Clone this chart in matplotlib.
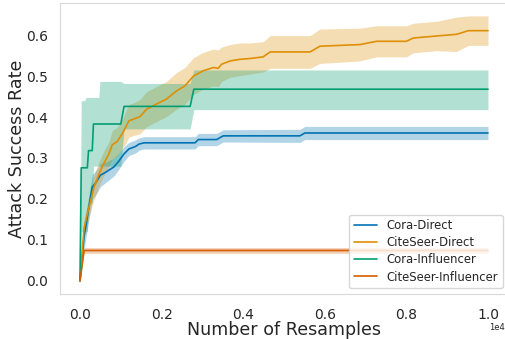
import numpy as np
import matplotlib
matplotlib.use("Agg")
import matplotlib.pyplot as plt
import seaborn as sns

sns.set_style("white")
plt.rcParams['font.family'] = ['DejaVu Sans']

# ---- data (x in units of resamples, shown with 1e4 offset) ----
labels = ["Cora-Direct", "CiteSeer-Direct", "Cora-Influencer", "CiteSeer-Influencer"]
colors = ["#0173b2", "#de8f05", "#029e73", "#d55e00"]

cora_direct_t = [0, 0.01, 0.03, 0.037, 0.05, 0.063, 0.083, 0.095, 0.108, 0.12, 0.136,
                 0.145, 0.157, 0.282, 0.29, 0.335, 0.351, 0.539, 0.551, 1.0]
cora_direct_v = [0, 0.108, 0.229, 0.237, 0.258, 0.265, 0.278, 0.292, 0.31, 0.322, 0.328,
                 0.334, 0.337, 0.337, 0.345, 0.345, 0.354, 0.354, 0.361, 0.361]
cora_direct_hw = [0, 0.03, 0.03, 0.03, 0.028, 0.025, 0.022, 0.02, 0.018, 0.016, 0.016,
                  0.015, 0.015, 0.015, 0.015, 0.015, 0.015, 0.016, 0.016, 0.016]

citeseer_direct_t = [0, 0.0098, 0.022, 0.034, 0.047, 0.059, 0.071, 0.079, 0.091, 0.104, 0.112,
                     0.12, 0.132, 0.147, 0.163, 0.188, 0.212, 0.237, 0.257, 0.278, 0.302, 0.327,
                     0.339, 0.347, 0.368, 0.392, 0.417, 0.449, 0.466, 0.564, 0.588, 0.686, 0.727,
                     0.80, 0.817, 0.874, 0.923, 0.952, 1.0]
citeseer_direct_v = [0, 0.128, 0.18, 0.227, 0.262, 0.288, 0.31, 0.332, 0.34, 0.36, 0.375,
                     0.391, 0.395, 0.401, 0.419, 0.432, 0.444, 0.464, 0.476, 0.50, 0.513, 0.521,
                     0.519, 0.529, 0.537, 0.541, 0.543, 0.547, 0.559, 0.559, 0.573, 0.577, 0.585,
                     0.585, 0.593, 0.598, 0.602, 0.611, 0.611]
citeseer_direct_hw = [0, 0.02, 0.025, 0.03, 0.03, 0.03, 0.03, 0.035, 0.035, 0.035, 0.04,
                      0.04, 0.04, 0.042, 0.043, 0.043, 0.043, 0.045, 0.045, 0.045, 0.045, 0.045,
                      0.045, 0.042, 0.04, 0.04, 0.038, 0.037, 0.04, 0.04, 0.042, 0.04, 0.038,
                      0.038, 0.036, 0.036, 0.042, 0.036, 0.036]

cora_infl_t = [0, 0.003, 0.012, 0.015, 0.018, 0.021, 0.030, 0.033, 0.046, 0.049, 0.100, 0.108,
               0.270, 0.279, 1.0]
cora_infl_v = [0, 0.276, 0.276, 0.276, 0.276, 0.318, 0.318, 0.383, 0.383, 0.383, 0.383, 0.426,
               0.426, 0.468, 0.468]
cora_infl_lo = [0, 0.12, 0.12, 0.12, 0.12, 0.19, 0.19, 0.28, 0.28, 0.28, 0.28, 0.371,
                0.371, 0.418, 0.418]
cora_infl_hi = [0, 0.44, 0.44, 0.448, 0.448, 0.448, 0.448, 0.448, 0.448, 0.487, 0.487, 0.482,
                0.482, 0.515, 0.515]

citeseer_infl_t = [0, 0.01, 1.0]
citeseer_infl_v = [0, 0.074, 0.074]
citeseer_infl_hw = [0, 0.007, 0.007]

scale = 1e4
yticks = [0.0, 0.1, 0.2, 0.3, 0.4, 0.5, 0.6]
xticks = [0.0, 0.2, 0.4, 0.6, 0.8, 1.0]

fig = plt.figure(figsize=(5.05, 3.39), dpi=100)
ax = fig.add_axes([0.118, 0.1327, 0.8887, 0.8594])

series = [
    (cora_direct_t, cora_direct_v,
     np.array(cora_direct_v) - np.array(cora_direct_hw), np.array(cora_direct_v) + np.array(cora_direct_hw)),
    (citeseer_direct_t, citeseer_direct_v,
     np.array(citeseer_direct_v) - np.array(citeseer_direct_hw), np.array(citeseer_direct_v) + np.array(citeseer_direct_hw)),
    (cora_infl_t, cora_infl_v, np.array(cora_infl_lo), np.array(cora_infl_hi)),
    (citeseer_infl_t, citeseer_infl_v,
     np.array(citeseer_infl_v) - np.array(citeseer_infl_hw), np.array(citeseer_infl_v) + np.array(citeseer_infl_hw)),
]

for (t, v, lo, hi), lab, c in zip(series, labels, colors):
    x = np.array(t) * scale
    ax.plot(x, v, color=c, lw=1.2, label=lab)
    ax.fill_between(x, lo, hi, color=c, alpha=0.3, lw=0)

ax.set_xticks(np.array(xticks) * scale)
ax.set_yticks(yticks)
ax.ticklabel_format(axis='x', style='sci', scilimits=(0, 0))
ax.tick_params(labelsize=10, colors='.15')
ax.tick_params(axis='x', pad=6.5)
ax.tick_params(axis='y', pad=5)
ax.xaxis.get_offset_text().set_visible(False)
fig.text(489 / 505, 1 - 323 / 339, "1e4", fontsize=6, color='.15', ha='left', va='top')
ax.set_xlabel("Number of Resamples", fontsize=12.6, color='.15', labelpad=-0.5)
ax.set_ylabel("Attack Success Rate", fontsize=12.6, color='.15', labelpad=0)
for s in ax.spines.values():
    s.set_color('.85')
ax.legend(loc='lower right', fontsize=8.4, frameon=True, labelspacing=0.35)

fig.savefig("out.png", dpi=100)
